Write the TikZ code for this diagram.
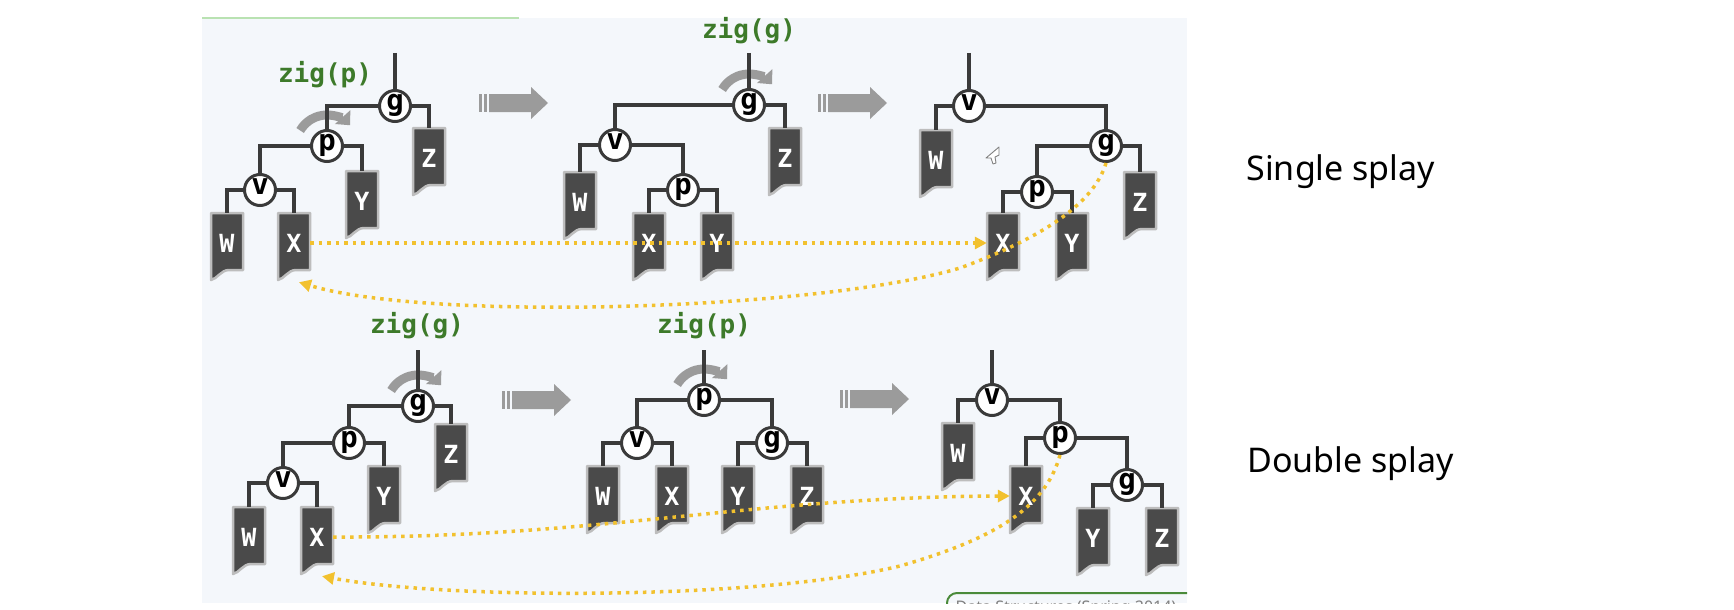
\documentclass[tikz,border=0pt]{standalone}
\usepackage{fontspec}
\usetikzlibrary{arrows.meta,calc}
\newfontfamily\codefont{DejaVu Sans Mono}
\newfontfamily\notefont{Noto Sans}
\definecolor{panelbg}{HTML}{F4F7FB}
\definecolor{inkline}{HTML}{3A3A3A}
\definecolor{leafbody}{HTML}{4A4A4A}
\definecolor{leafrim}{HTML}{BDBDBD}
\definecolor{zigcol}{HTML}{3D7A2A}
\definecolor{turncol}{HTML}{9B9B9B}
\definecolor{traceyellow}{HTML}{F2C12E}
\definecolor{slidegreen}{HTML}{4A8A3A}
\definecolor{paleline}{HTML}{B9E2B2}
\pgfdeclarelayer{bg}
\pgfdeclarelayer{back}
\pgfsetlayers{bg,back,main}

% subtree leaf: name, centre x, top y, label
\newcommand\leafbox[4]{%
  \path[leafshape] (#2-16,#3) -- (#2+16,#3) -- (#2+16,#3+57) -- (#2+2,#3+57)
     .. controls (#2-6,#3+57) and (#2-10,#3+66) .. (#2-16,#3+67) -- cycle;
  \node[leaflabel] (#1) at (#2,#3+30) {#4};
}
% block arrow between two stages: x of first stripe, y of axis
\newcommand\stagearrow[2]{%
  \fill[turncol] (#1,#2-9) rectangle (#1+3,#2+9);
  \fill[turncol] (#1+5,#2-9) rectangle (#1+8,#2+9);
  \fill[turncol] (#1+10,#2-9) -- (#1+52,#2-9) -- (#1+52,#2-16) -- (#1+69,#2)
     -- (#1+52,#2+16) -- (#1+52,#2+9) -- (#1+10,#2+9) -- cycle;
}
% rotation arrow over a node
\newcommand\turnover[1]{%
  \begin{pgfonlayer}{back}
  \draw[turn] ([shift={(150:31pt)}]#1.center) arc[start angle=150, end angle=42, radius=31pt];
  \end{pgfonlayer}
}

\tikzset{
  keynode/.style={circle, draw=inkline, line width=3pt, fill=white, minimum size=31pt,
    inner sep=0pt, font=\codefont\bfseries\fontsize{29}{29}\selectfont,
    text height=15pt, text depth=6pt},
  leafshape/.style={fill=leafbody, draw=leafrim, line width=2.5pt, line join=round},
  leaflabel/.style={minimum width=32pt, minimum height=60pt, inner sep=0pt, text=white,
    font=\codefont\bfseries\fontsize{25}{25}\selectfont},
  branch/.style={draw=inkline, line width=4pt},
  turn/.style={draw=turncol, line width=9pt, -{Triangle[length=11pt,width=20pt]}},
  trace/.style={draw=traceyellow, line width=3.5pt, dash pattern=on 3.5pt off 5pt,
    -{Triangle[length=12pt,width=12pt]}},
  zig/.style={text=zigcol, font=\codefont\bfseries\fontsize{26}{26}\selectfont, anchor=base},
  caption/.style={font=\notefont\fontsize{34}{34}\selectfont, anchor=base west},
}

\begin{document}
\begin{tikzpicture}[x=1pt,y=-1pt]
\useasboundingbox (0,0) rectangle (1734,610);

% slide panel
\begin{pgfonlayer}{bg}
  \fill[white] (0,0) rectangle (1734,610);
  \fill[panelbg] (202,18) rectangle (1187,603);
  \draw[paleline, line width=1.2pt] (202,18) -- (519,18);
\end{pgfonlayer}

% ---------- single splay: stage 1 ----------
\node[zig] (zig1) at (325,82) {zig(p)};
\coordinate (r1) at (395,53);
\node[keynode] (g1) at (395,106) {g};
\node[keynode] (p1) at (327,146) {p};
\node[keynode] (v1) at (260,190) {v};
\leafbox{W1}{227}{213}{W}
\leafbox{X1}{294}{213}{X}
\leafbox{Y1}{362}{171}{Y}
\leafbox{Z1}{429}{128}{Z}
\draw[branch] (r1) -- (g1) (g1) -| (p1) (g1) -| (Z1) (p1) -| (v1) (p1) -| (Y1)
  (v1) -| (W1) (v1) -| (X1);
\turnover{p1}
\stagearrow{479}{103}

% ---------- single splay: stage 2 ----------
\node[zig] (zig2) at (749,39) {zig(g)};
\coordinate (r2) at (749,53);
\node[keynode] (g2) at (749,105) {g};
\node[keynode] (v2) at (615,145) {v};
\node[keynode] (p2) at (683,190) {p};
\leafbox{W2}{580}{172}{W}
\leafbox{X2}{649}{213}{X}
\leafbox{Y2}{717}{213}{Y}
\leafbox{Z2}{785}{128}{Z}
\draw[branch] (r2) -- (g2) (g2) -| (v2) (g2) -| (Z2) (v2) -| (W2) (v2) -| (p2)
  (p2) -| (X2) (p2) -| (Y2);
\turnover{g2}
\stagearrow{818}{103}

% ---------- single splay: stage 3 ----------
\coordinate (r3) at (969,53);
\node[keynode] (v3) at (969,106) {v};
\node[keynode] (g3) at (1106,146) {g};
\node[keynode] (p3) at (1037,192) {p};
\leafbox{W3}{936}{130}{W}
\leafbox{X3}{1003}{213}{X}
\leafbox{Y3}{1072}{213}{Y}
\leafbox{Z3}{1140}{172}{Z}
\draw[branch] (r3) -- (v3) (v3) -| (W3) (v3) -| (g3) (g3) -| (p3) (g3) -| (Z3)
  (p3) -| (X3) (p3) -| (Y3);

% mouse pointer
\filldraw[draw=gray, fill=white, line width=0.9pt, line join=round]
  (999,147) -- (986,158) -- (991,158) -- (993,164) -- (996,163) -- (995,157) -- (999,155) -- cycle;

% ---------- double splay: stage 1 ----------
\node[zig] (zig4) at (417,333) {zig(g)};
\coordinate (r4) at (418,350);
\node[keynode] (g4) at (418,406) {g};
\node[keynode] (p4) at (349,443) {p};
\node[keynode] (v4) at (283,483) {v};
\leafbox{W4}{249}{507}{W}
\leafbox{X4}{317}{507}{X}
\leafbox{Y4}{384}{466}{Y}
\leafbox{Z4}{451}{424}{Z}
\draw[branch] (r4) -- (g4) (g4) -| (p4) (g4) -| (Z4) (p4) -| (v4) (p4) -| (Y4)
  (v4) -| (W4) (v4) -| (X4);
\turnover{g4}
\stagearrow{502}{400}

% ---------- double splay: stage 2 ----------
\node[zig] (zig5) at (704,333) {zig(p)};
\coordinate (r5) at (704,350);
\node[keynode] (p5) at (704,400) {p};
\node[keynode] (v5) at (637,443) {v};
\node[keynode] (g5) at (772,443) {g};
\leafbox{W5}{603}{466}{W}
\leafbox{X5}{672}{466}{X}
\leafbox{Y5}{738}{466}{Y}
\leafbox{Z5}{807}{466}{Z}
\draw[branch] (r5) -- (p5) (p5) -| (v5) (p5) -| (g5) (v5) -| (W5) (v5) -| (X5)
  (g5) -| (Y5) (g5) -| (Z5);
\turnover{p5}
\stagearrow{840}{399}

% ---------- double splay: stage 3 ----------
\coordinate (r6) at (992,350);
\node[keynode] (v6) at (992,400) {v};
\node[keynode] (p6) at (1060,438) {p};
\node[keynode] (g6) at (1127,485) {g};
\leafbox{W6}{958}{423}{W}
\leafbox{X6}{1026}{466}{X}
\leafbox{Y6}{1093}{508}{Y}
\leafbox{Z6}{1162}{508}{Z}
\draw[branch] (r6) -- (v6) (v6) -| (W6) (v6) -| (p6) (p6) -| (X6) (p6) -| (g6)
  (g6) -| (Y6) (g6) -| (Z6);

% where subtree X and the splayed node end up
\draw[trace] (X1.east) -- (X3.west);
\draw[trace] (g3.south) .. controls (1095,200) and (1050,235) .. (960,268)
  .. controls (820,310) and (430,322) .. ([xshift=5pt,yshift=-9pt]X1.south);
\draw[trace] (X4.east) .. controls (600,538) and (750,497) .. (X6.west);
\draw[trace] (p6.south) .. controls (1045,510) and (990,540) .. (900,566)
  .. controls (760,600) and (450,600) .. ([xshift=5pt,yshift=-9pt]X4.south);

% footer tab, cut off by the slide edge
\begin{scope}
  \clip (202,18) rectangle (1187,603);
  \draw[slidegreen, line width=2pt, rounded corners=10pt] (947,593) rectangle (1240,650);
  \node[font=\notefont\fontsize{16}{16}\selectfont, text=gray, anchor=base] (footer)
    at (1066,612) {Data Structures (Spring 2014)};
\end{scope}

% captions
\node[caption] (single) at (1243,180) {Single splay};
\node[caption] (double) at (1244,472) {Double splay};
\end{tikzpicture}
\end{document}
